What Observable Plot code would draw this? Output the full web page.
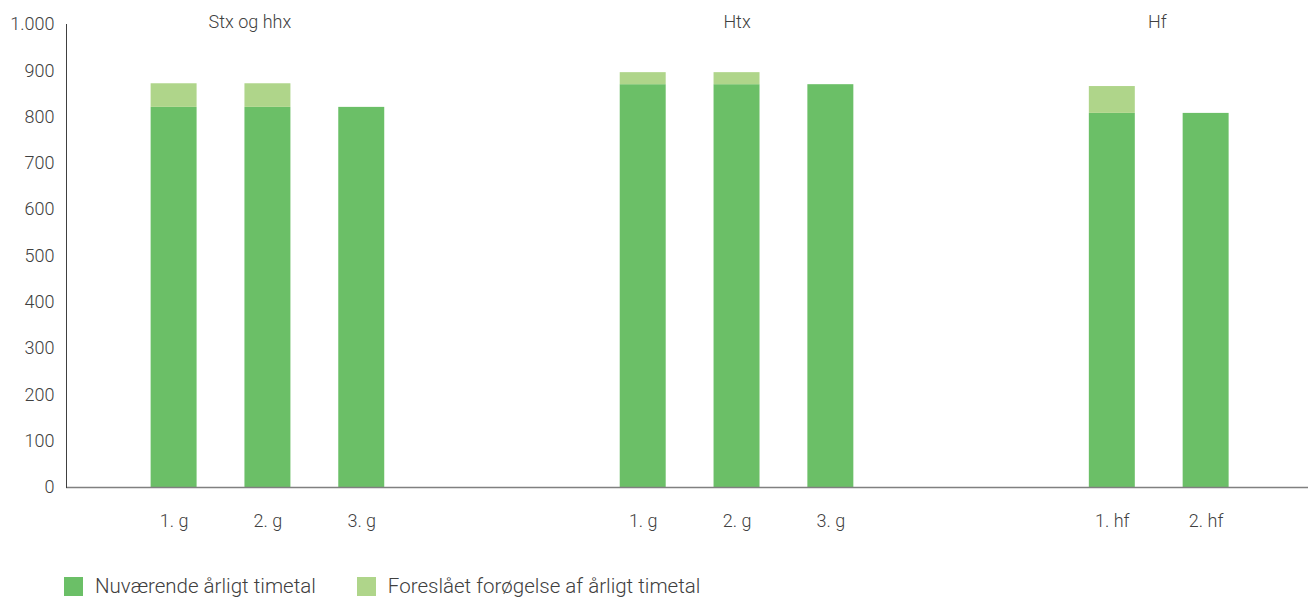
<!DOCTYPE html>
<html>
<head>
<meta charset="utf-8">
<script src="https://cdn.jsdelivr.net/npm/d3@7"></script>
<script src="https://cdn.jsdelivr.net/npm/@observablehq/plot@0.6"></script>
<style>
  body { margin: 0; background: #fff; font-family: Roboto, sans-serif; font-weight: 300; color: #404040; }
  #legend { display: flex; align-items: center; padding-left: 64px; margin-top: 14px; font-size: 20.5px; }
  .item { display: flex; align-items: center; margin-right: 41px; }
  .sw { width: 19px; height: 19px; margin-right: 12px; }
</style>
</head>
<body>
<div id="chart"></div>
<div id="legend"></div>
<script>
// Data
const groups = ["Stx og hhx", "Stx og hhx", "Stx og hhx", "Htx", "Htx", "Htx", "Hf", "Hf"];
const levels = ["1. g", "2. g", "3. g", "1. g", "2. g", "3. g", "1. hf", "2. hf"];
const current = [821, 821, 821, 870, 870, 870, 808, 808];
const increase = [51, 51, 0, 26, 26, 0, 58, 0];
const seriesNames = ["Nuværende årligt timetal", "Foreslået forøgelse af årligt timetal"];
const colors = ["#6bbf67", "#afd58a"];
const yTicks = [0, 100, 200, 300, 400, 500, 600, 700, 800, 900, 1000];

const keys = groups.map((g, i) => g + "|" + levels[i]);
// domain with two empty slots between groups
const groupNames = [...new Set(groups)];
const domain = [];
groupNames.forEach((g, gi) => {
  if (gi > 0) { domain.push("gap" + gi + "a", "gap" + gi + "b"); }
  keys.filter((k, i) => groups[i] === g).forEach(k => domain.push(k));
});

const rows = [];
keys.forEach((k, i) => {
  rows.push({key: k, series: seriesNames[0], value: current[i]});
  rows.push({key: k, series: seriesNames[1], value: increase[i]});
});

const labelFmt = d => d.split("|")[1];
const numFmt = d => d3.format(",")(d).replace(/,/g, ".");

const plot = Plot.plot({
  width: 1308,
  height: 560,
  marginLeft: 66,
  marginRight: 0,
  marginTop: 24,
  marginBottom: 73,
  style: {fontFamily: "Roboto", fontSize: "18px", fontWeight: 300, color: "#404040", background: "#fff"},
  x: {domain, paddingInner: 0.51, paddingOuter: 0.874, align: 0.516, round: false, axis: null},
  y: {domain: [0, 1000], axis: null},
  color: {domain: seriesNames, range: colors},
  marks: [
    Plot.barY(rows, {x: "key", y: "value", fill: "series", order: seriesNames}),
    Plot.axisX(keys, {tickSize: 0, tickPadding: 27, tickFormat: labelFmt, label: null, fontSize: 18}),
    Plot.axisY({ticks: yTicks, tickSize: 0, tickPadding: 12, tickFormat: numFmt, label: null}),
    Plot.ruleY([0], {stroke: "#808080", strokeWidth: 1.3}),
    Plot.frame({anchor: "left", stroke: "#404040"}),
    Plot.text(["Stx og hhx"], {x: [keys[1]], y: [1000], text: d => d, dx: -18, dy: -2}),
    Plot.text(["Htx"], {x: [keys[4]], y: [1000], text: d => d, dy: -2}),
    Plot.text(["Hf"], {x: [keys[6]], y: [1000], text: d => d, dx: 45, dy: -2})
  ]
});
document.getElementById("chart").appendChild(plot);

const legend = document.getElementById("legend");
seriesNames.forEach((s, i) => {
  const it = document.createElement("div");
  it.className = "item";
  const sw = document.createElement("div");
  sw.className = "sw";
  sw.style.background = colors[i];
  const t = document.createElement("span");
  t.textContent = s;
  it.appendChild(sw); it.appendChild(t);
  legend.appendChild(it);
});
</script>
</body>
</html>
